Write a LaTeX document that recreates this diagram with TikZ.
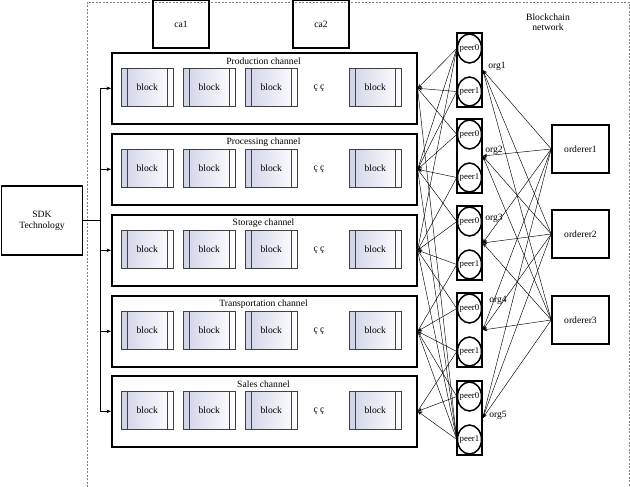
\documentclass[tikz,border=0pt]{standalone}
\usepackage{fontspec}
\setmainfont{Liberation Serif}
\usetikzlibrary{arrows.meta,shapes.geometric}
\begin{document}
\begin{tikzpicture}[x=1pt,y=-1pt,font=\fontsize{9.6}{11}\selectfont,
  thickbox/.style={draw,line width=1.6pt,inner sep=0pt,align=center},
  chan/.style={thickbox,minimum width=305pt,minimum height=71pt,anchor=north west},
  blk/.style={draw=black!75,line width=0.5pt,inner sep=0pt,minimum width=52pt,minimum height=38pt,
    anchor=north west,left color={rgb,255:red,208;green,211;blue,231},right color=white,
    path picture={
      \draw[black!75,line width=0.5pt] ([xshift=6pt]path picture bounding box.north west) -- ([xshift=6pt]path picture bounding box.south west);
      \draw[black!75,line width=0.5pt] ([xshift=-6pt]path picture bounding box.north east) -- ([xshift=-6pt]path picture bounding box.south east);}},
  orgbox/.style={draw,line width=1.5pt,minimum width=25pt,minimum height=74pt,inner sep=0pt},
  peer/.style={ellipse,draw,line width=1.5pt,minimum width=24pt,minimum height=29pt,inner sep=0pt},
  peertxt/.style={font=\fontsize{8.8}{10}\selectfont},
  conn/.style={line width=0.45pt},
  arr/.style={conn,-{Stealth[length=4.5pt,width=3.5pt]}}]
\useasboundingbox (0,0) rectangle (630,487);
\draw[gray,line width=0.6pt,dash pattern=on 2pt off 1.5pt] (87,487) -- (87,2) -- (629,2) -- (629,487);

% CA boxes
\node[thickbox,minimum width=56pt,minimum height=48pt] (ca1) at (181,24) {ca1};
\node[thickbox,minimum width=56pt,minimum height=48pt] (ca2) at (321,24) {ca2};
\node[align=center] (bcn) at (548,22) {Blockchain\\[-1pt]network};

% channels
\foreach \i/\y/\t in {1/52/Production channel,2/133/Processing channel,3/214/Storage channel,4/295/Transportation channel,5/375/Sales channel}{
  \node[chan] (ch\i) at (111,\y) {};
  \node (cht\i) at (263.5,\y+9) {\t};
  \node[blk] (b\i a) at (121,\y+16) {block};
  \node[blk] (b\i b) at (183,\y+16) {block};
  \node[blk] (b\i c) at (245,\y+16) {block};
  \node (dots\i) at (319,\y+36) {ç ç};
  \node[blk] (b\i d) at (349,\y+16) {block};
}

% SDK
\node[thickbox,minimum width=81pt,minimum height=69pt] (sdk) at (42,220.5) {SDK\\Technology};
\coordinate (bus) at (100,0);
\draw[conn] (sdk.east) -- (sdk.east -| bus);
\draw[conn] (ch1.west -| bus) -- (ch5.west -| bus);
\foreach \i in {1,...,5}{\draw[arr] (ch\i.west -| bus) -- (ch\i.west);}

% orgs
\foreach \i/\y in {1/33,2/119,3/206,4/293,5/381}{
  \node[orgbox] (org\i) at (469.5,\y+37) {};
  \node[peer,label={[peertxt]center:peer0}] (p\i a) at (469.5,\y+15.5) {};
  \node[peer,label={[peertxt]center:peer1}] (p\i b) at (469.5,\y+58.5) {};
}
\node (ol1) at (497,66) {org1};
\node (ol2) at (494,150) {org2};
\node (ol3) at (494,218) {org3};
\node (ol4) at (498,300) {org4};
\node (ol5) at (498,415) {org5};

% orderers
\node[thickbox,minimum width=57pt,minimum height=48pt] (od1) at (580.5,149) {orderer1};
\node[thickbox,minimum width=57pt,minimum height=48pt] (od2) at (580.5,234) {orderer2};
\node[thickbox,minimum width=57pt,minimum height=48pt] (od3) at (580.5,320) {orderer3};

% peers -> channels
\foreach \i in {1,...,5}{
  \draw[arr] (p\i a.west) -- (ch\i.east);
  \draw[arr] (p\i b.west) -- (ch\i.east);
}
\draw[conn] (p2a.west) -- (ch1.east);
\draw[conn] (p3a.west) -- (ch2.east);
\draw[conn] (p4a.west) -- (ch3.east);
\draw[conn] (p5a.west) -- (ch4.east);
\draw[conn] (p1b.west) -- (ch2.east);
\draw[conn] (p2b.west) -- (ch3.east);
\draw[conn] (p3b.west) -- (ch4.east);
\draw[conn] (p4b.west) -- (ch5.east);
\draw[conn] (p1a.west) -- (ch2.east);
\draw[conn] (p1a.west) -- (ch3.east);
\foreach \i in {1,...,4}{\draw[conn] (p5b.west) -- (ch\i.east);}

% orderers -> orgs
\foreach \j in {1,2,3}{
  \foreach \i in {1,...,5}{
    \draw[arr] (od\j.west) -- (org\i.east);
  }
}
\end{tikzpicture}
\end{document}
